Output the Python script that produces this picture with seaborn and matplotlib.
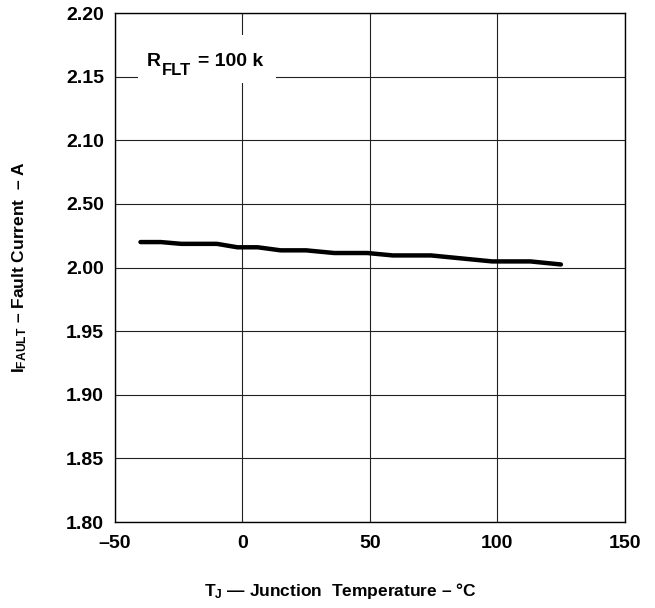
import matplotlib
matplotlib.use("Agg")
import matplotlib.pyplot as plt
from matplotlib.patches import Rectangle
import seaborn as sns
import pandas as pd

# values
temp_c = [-40, -32, -24, -10, -2, 6, 15, 25, 36, 49, 59, 74, 98, 113, 125]
fault_a = [2.0200, 2.0200, 2.0186, 2.0186, 2.0159, 2.0159, 2.0135, 2.0135,
           2.0114, 2.0114, 2.0095, 2.0095, 2.0048, 2.0048, 2.0024]

x_ticks = [-50, 0, 50, 100, 150]
x_tick_labels = ["\u201350", "0", "50", "100", "150"]
y_ticks = [1.80, 1.85, 1.90, 1.95, 2.00, 2.05, 2.10, 2.15, 2.20]
y_tick_labels = ["1.80", "1.85", "1.90", "1.95", "2.00", "2.50", "2.10", "2.15", "2.20"]

sns.set_theme(style="white")
plt.rcParams["font.family"] = ["Liberation Sans", "DejaVu Sans"]
plt.rcParams["font.weight"] = "bold"
plt.rcParams["text.color"] = "black"
plt.rcParams["xtick.color"] = "black"
plt.rcParams["ytick.color"] = "black"
plt.rcParams["mathtext.fontset"] = "custom"
plt.rcParams["mathtext.rm"] = "Liberation Sans:bold"
plt.rcParams["mathtext.bf"] = "Liberation Sans:bold"
plt.rcParams["mathtext.it"] = "Liberation Sans:bold"

df = pd.DataFrame({"T": temp_c, "I": fault_a})

fig = plt.figure(figsize=(6.55, 6.08), dpi=100)
ax = fig.add_axes([0.1756, 0.1414, 0.778, 0.8372])

sns.lineplot(data=df, x="T", y="I", ax=ax, color="black", linewidth=3.2, zorder=3)
ax.set_xlabel("")
ax.set_ylabel("")

ax.set_xlim(-50, 150)
ax.set_ylim(1.80, 2.20)
ax.set_xticks(x_ticks)
ax.set_xticklabels(x_tick_labels, fontsize=14, fontweight="bold")
ax.set_yticks(y_ticks)
ax.set_yticklabels(y_tick_labels, fontsize=14, fontweight="bold")
ax.tick_params(axis="x", length=0, pad=9, colors="black")
ax.tick_params(axis="y", length=0, pad=8, colors="black")
ax.grid(True, color="#222222", linewidth=0.8)
for s in ax.spines.values():
    s.set_color("black")
    s.set_linewidth(1.0)

fig.text(0.519, 0.028, "$\\mathrm{T_J}$ \u2014 Junction  Temperature \u2013 \u00b0C",
         fontsize=12.5, fontweight="bold", ha="center", va="center")
fig.text(0.030, 0.561, "$\\mathrm{I_{FAULT}}$ \u2013 Fault Current  \u2013 A",
         fontsize=12.5, fontweight="bold", ha="center", va="center", rotation=90)

# white label box over the grid
ax.add_patch(Rectangle((-41, 2.145), 54, 0.0377, facecolor="white",
                       edgecolor="none", zorder=2.5))
ax.annotate("R", xy=(-37.5, 2.158), fontsize=14, fontweight="bold",
            ha="left", va="baseline", zorder=4)
ax.annotate("FLT", xy=(-37.5, 2.158), xytext=(11, -6), textcoords="offset points",
            fontsize=12, fontweight="bold", ha="left", va="baseline", zorder=4)
ax.annotate("= 100 k", xy=(-37.5, 2.158), xytext=(37, 0), textcoords="offset points",
            fontsize=14, fontweight="bold", ha="left", va="baseline", zorder=4)

fig.savefig("out.png", dpi=100)
